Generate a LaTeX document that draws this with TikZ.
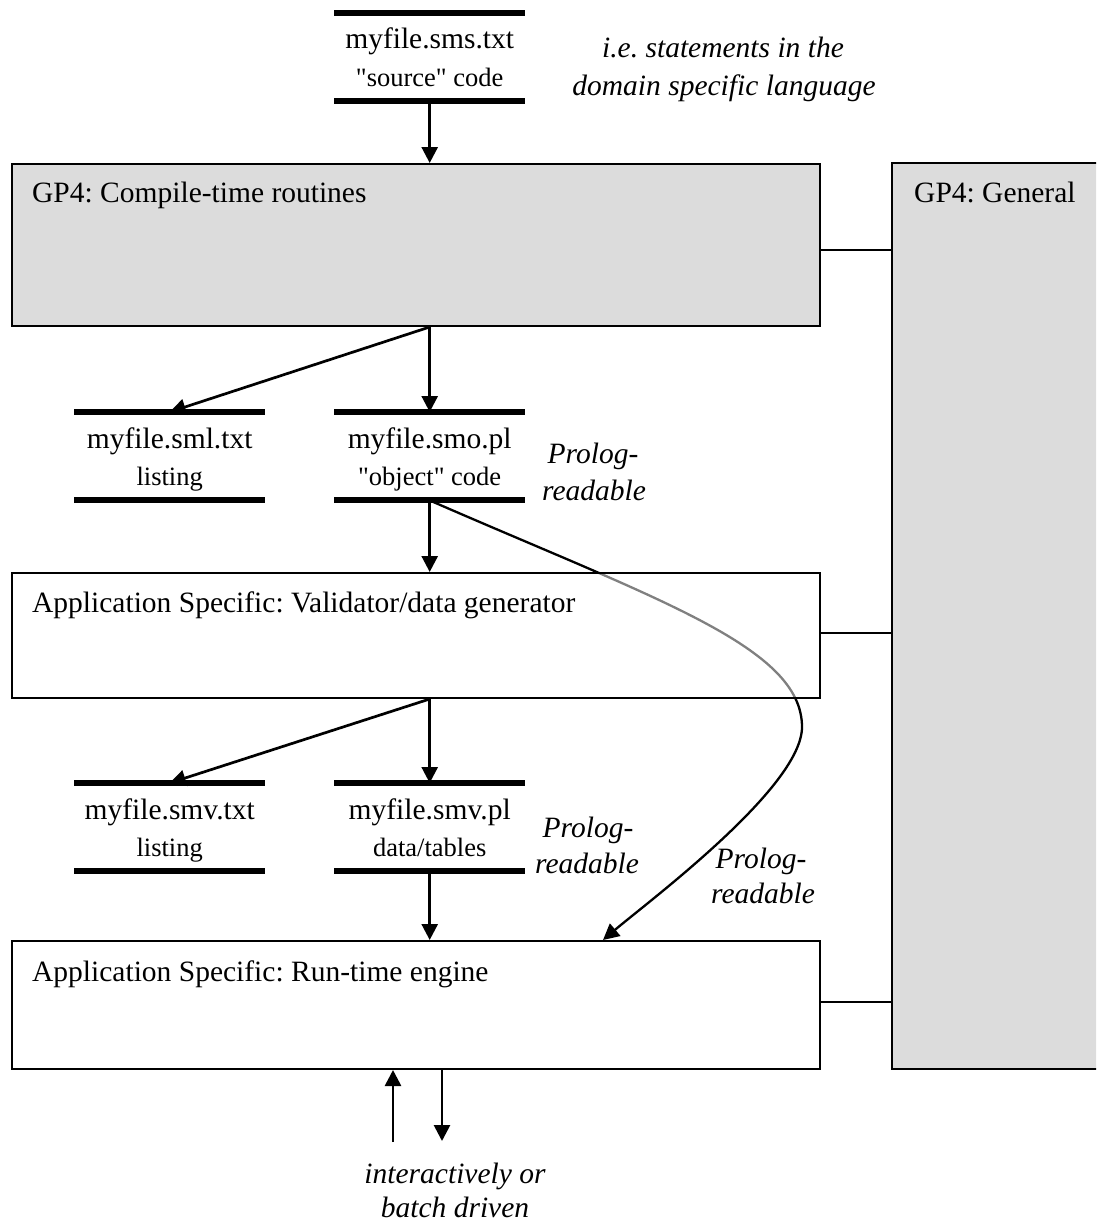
\documentclass[tikz,border=0pt]{standalone}
\usepackage{fontspec}
\setmainfont{Liberation Serif}[Ligatures=TeXOff]
\usetikzlibrary{arrows.meta,calc}
\definecolor{panelgray}{RGB}{220,220,220}
\frenchspacing
\begin{document}
\begin{tikzpicture}[x=1pt,y=-1pt,
  box/.style={draw, line width=2pt, anchor=north west, inner sep=0pt},
  filenode/.style={anchor=north west, inner sep=0pt, minimum width=191, minimum height=88},
  bar/.style={line width=6pt},
  conn/.style={line width=2.7pt, -{Triangle[length=16pt,width=16pt]}},
  link/.style={line width=2pt},
  main/.style={inner sep=0pt, font=\fontsize{29.5}{32}\selectfont},
  sub/.style={inner sep=0pt, font=\fontsize{26.5}{29}\selectfont},
  note/.style={inner sep=0pt, anchor=base, font=\fontsize{29.5}{32}\selectfont\itshape},
]
\useasboundingbox (0,0) rectangle (1096,1224);
\clip (0,0) rectangle (1096,1224);

% large panels; the general library panel runs on past the right edge
\node[box, fill=panelgray, minimum width=808, minimum height=162] (compile) at (11,163) {};
\node[anchor=north west, inner sep=0pt, fill=panelgray, minimum width=300, minimum height=906] (general) at (892,163) {};
\draw[link, line join=miter] (general.north east) -- (general.north west)
  -- (general.south west) -- (general.south east);
\node[main, anchor=base west] (compilelbl) at (32,202) {GP4: Compile-time routines};
\node[main, anchor=base west] (generallbl) at (914,202) {GP4: General};

% file stores: text between two thick bars
\node[filenode] (sms) at (334,13) {};
\node[filenode] (sml) at (74,412) {};
\node[filenode] (smo) at (334,412) {};
\node[filenode] (smvt) at (74,783) {};
\node[filenode] (smvp) at (334,783) {};
\foreach \f in {sms,sml,smo,smvt,smvp}{
  \draw[bar] (\f.north west) -- (\f.north east);
  \draw[bar] (\f.south west) -- (\f.south east);
}
\node[main, anchor=base] (smsa) at ($(sms.north)+(0,35)$) {myfile.sms.txt};
\node[sub, anchor=base] (smsb) at ($(sms.north)+(0,73)$) {"source" code};
\node[main, anchor=base] (smla) at ($(sml.north)+(0,36)$) {myfile.sml.txt};
\node[sub, anchor=base] (smlb) at ($(sml.north)+(0,73)$) {listing};
\node[main, anchor=base] (smoa) at ($(smo.north)+(0,36)$) {myfile.smo.pl};
\node[sub, anchor=base] (smob) at ($(smo.north)+(0,73)$) {"object" code};
\node[main, anchor=base] (smvta) at ($(smvt.north)+(0,36)$) {myfile.smv.txt};
\node[sub, anchor=base] (smvtb) at ($(smvt.north)+(0,73)$) {listing};
\node[main, anchor=base] (smvpa) at ($(smvp.north)+(0,36)$) {myfile.smv.pl};
\node[sub, anchor=base] (smvpb) at ($(smvp.north)+(0,73)$) {data/tables};

% notes
\node[note] (dsl1) at (723,57) {i.e. statements in the};
\node[note] (dsl2) at (724,95) {domain specific language};
\node[note] (pr1a) at (593,463) {Prolog-};
\node[note] (pr1b) at (594,500) {readable};
\node[note] (pr2a) at (588,837) {Prolog-};
\node[note] (pr2b) at (587,873) {readable};
\node[note] (pr3a) at (761,868) {Prolog-};
\node[note] (pr3b) at (763,903) {readable};
\node[note] (io1) at (455,1183) {interactively or};
\node[note] (io2) at (455,1217) {batch driven};

% object code is read directly by the run-time engine
\coordinate (rtin) at (603,940);
\coordinate (bend) at (802,727);
\draw[conn, line width=2.3pt] (smo.south) .. controls (658,600) and (802,647) .. (bend)
  .. controls (802,787) and (649,901) .. (rtin);

% application panels (the curve shows faintly through the validator)
\node[box, fill=white, fill opacity=0.5, minimum width=808, minimum height=125] (valid) at (11,572) {};
\node[box, fill=white, minimum width=808, minimum height=128] (runtime) at (11,940) {};
\node[main, anchor=base west] (validlbl) at (32,612) {Application Specific: Validator/data generator};
\node[main, anchor=base west] (runtimelbl) at (32,981) {Application Specific: Run-time engine};

% links to the general library
\draw[link] ($(compile.north east)+(0,87)$) -- ($(general.north west)+(0,87)$);
\draw[link] ($(valid.north east)+(0,61)$) -- ($(general.north west)+(0,470)$);
\draw[link] ($(runtime.north east)+(0,62)$) -- ($(general.north west)+(0,839)$);

% flow arrows
\draw[conn] (sms.south) -- (sms.south |- compile.north);
\draw[conn] (smo.north |- compile.south) -- (smo.north);
\draw[conn] (smo.north |- compile.south) -- (sml.north);
\draw[conn] (smo.south) -- (smo.south |- valid.north);
\draw[conn] (smvp.north |- valid.south) -- (smvp.north);
\draw[conn] (smvp.north |- valid.south) -- (smvt.north);
\draw[conn] (smvp.south) -- (smvp.south |- runtime.north);

% user interaction
\coordinate (inlow) at (393,1142);
\coordinate (outlow) at (442,1141);
\draw[conn] (inlow) -- (inlow |- runtime.south);
\draw[conn] (outlow |- runtime.south) -- (outlow);
\end{tikzpicture}
\end{document}
